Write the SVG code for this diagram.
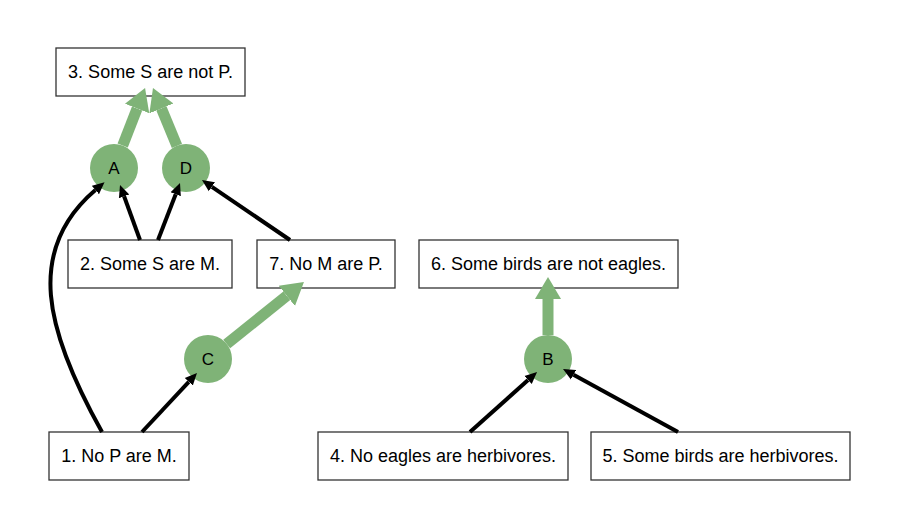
<svg xmlns="http://www.w3.org/2000/svg" width="898" height="528" viewBox="0 0 898 528">
<defs>
<style>
.box{fill:#fff;stroke:#333;stroke-width:1.3}
.t{font-family:"Liberation Sans",Arial,sans-serif;font-size:18px;fill:#000;text-anchor:middle}
.ct{font-family:"Liberation Sans",Arial,sans-serif;font-size:17px;fill:#000;text-anchor:middle}
.circ{fill:#7fb377}
.blk{fill:none;stroke:#000;stroke-width:4}
.grn{fill:none;stroke:#7fb377;stroke-width:11}
</style>
<marker id="ab" markerUnits="userSpaceOnUse" markerWidth="13" markerHeight="13" refX="0" refY="6.5" orient="auto" viewBox="0 0 13 13">
<path d="M0,1 L12,6.5 L0,12 z" fill="#000"/>
</marker>
<marker id="ag" markerUnits="userSpaceOnUse" markerWidth="23" markerHeight="28" refX="0" refY="14" orient="auto" viewBox="0 0 23 28">
<path d="M0,1 L22,14 L0,27 z" fill="#7fb377"/>
</marker>
</defs>
<rect width="898" height="528" fill="#fff"/>
<g id="n3"><rect class="box" x="56" y="48" width="189" height="48"/><text class="t" x="150.5" y="78.4">3. Some S are not P.</text></g>
<g id="n2"><rect class="box" x="68" y="240" width="164" height="48"/><text class="t" x="150" y="270.4">2. Some S are M.</text></g>
<g id="n7"><rect class="box" x="257" y="240" width="138" height="48"/><text class="t" x="326" y="270.4">7. No M are P.</text></g>
<g id="n6"><rect class="box" x="419" y="240" width="259" height="48"/><text class="t" x="548.5" y="270.4">6. Some birds are not eagles.</text></g>
<g id="n1"><rect class="box" x="49" y="432" width="140" height="48"/><text class="t" x="119" y="462.4">1. No P are M.</text></g>
<g id="n4"><rect class="box" x="318" y="432" width="250" height="48"/><text class="t" x="443" y="462.4">4. No eagles are herbivores.</text></g>
<g id="n5"><rect class="box" x="591" y="432" width="259" height="48"/><text class="t" x="720.5" y="462.4">5. Some birds are herbivores.</text></g>
<g id="nA"><circle class="circ" cx="114" cy="168" r="24"/><text class="ct" x="114" y="174">A</text></g>
<g id="nD"><circle class="circ" cx="186" cy="168" r="24"/><text class="ct" x="186" y="174">D</text></g>
<g id="nC"><circle class="circ" cx="208" cy="359" r="24"/><text class="ct" x="208" y="365">C</text></g>
<g id="nB"><circle class="circ" cx="548" cy="359" r="24"/><text class="ct" x="548" y="365">B</text></g>
<g id="edges">
<line class="grn" x1="122.7" y1="145.6" x2="137.1" y2="108.5" marker-end="url(#ag)"/>
<line class="grn" x1="176.9" y1="145.8" x2="161.4" y2="108.4" marker-end="url(#ag)"/>
<line class="grn" x1="226.7" y1="344" x2="286.8" y2="295.8" marker-end="url(#ag)"/>
<line class="grn" x1="548" y1="335" x2="548" y2="299" marker-end="url(#ag)"/>
<line class="blk" x1="140" y1="240" x2="124.1" y2="196.3" marker-end="url(#ab)"/>
<line class="blk" x1="158" y1="240" x2="175.7" y2="194.2" marker-end="url(#ab)"/>
<line class="blk" x1="290" y1="240" x2="211.9" y2="186.8" marker-end="url(#ab)"/>
<path class="blk" d="M102,432 C45,330 25,250 95.4,190" marker-end="url(#ab)"/>
<line class="blk" x1="142" y1="432" x2="188.8" y2="381.8" marker-end="url(#ab)"/>
<line class="blk" x1="470" y1="432" x2="528.1" y2="380" marker-end="url(#ab)"/>
<line class="blk" x1="678" y1="432" x2="573.5" y2="374.8" marker-end="url(#ab)"/>
</g>
</svg>
